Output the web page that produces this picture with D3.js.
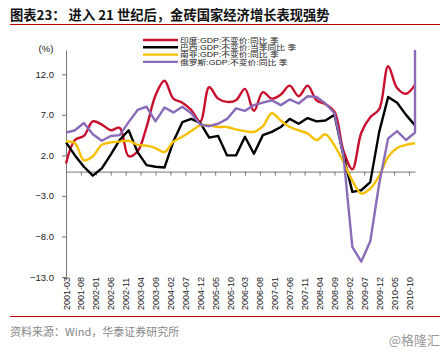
<!DOCTYPE html>
<html>
<head>
<meta charset="utf-8">
<script src="https://cdn.jsdelivr.net/npm/d3@7"></script>
<style>
  body { margin: 0; background: #fff; }
  svg { display: block; font-family: "Liberation Sans", Arial, "Noto Sans CJK SC", sans-serif; }
</style>
</head>
<body>
<div id="chart"></div>
<script>
// Chart size, same as the window
const width = 448;
const height = 353;

// Quarterly dates (the x axis counts months from 2001-03)
const quarters = [
  "2001-03","2001-06","2001-09","2001-12","2002-03","2002-06","2002-09","2002-12",
  "2003-03","2003-06","2003-09","2003-12","2004-03","2004-06","2004-09","2004-12",
  "2005-03","2005-06","2005-09","2005-12","2006-03","2006-06","2006-09","2006-12",
  "2007-03","2007-06","2007-09","2007-12","2008-03","2008-06","2008-09","2008-12",
  "2009-03","2009-06","2009-09","2009-12","2010-03","2010-06","2010-09","2010-12"
];

// Tick labels every five months
const tickLabels = [
  "2001-03","2001-08","2002-01","2002-06","2002-11","2003-04","2003-09","2004-02",
  "2004-07","2004-12","2005-05","2005-10","2006-03","2006-08","2007-01","2007-06",
  "2007-11","2008-04","2008-09","2009-02","2009-07","2009-12","2010-05","2010-10"
];

const yTicks = [-13, -8, -3, 2, 7, 12];

// GDP growth, % y/y
const india = [1.0,3.9,4.4,6.2,5.8,5.1,5.4,1.9,2.5,5.5,9.4,11.2,9.0,8.5,7.6,6.2,
  10.4,9.0,8.6,8.8,10.2,7.5,9.8,9.0,9.5,10.6,9.3,10.6,8.8,8.3,7.4,2.6,
  0.3,4.8,6.7,7.7,13.0,10.3,9.6,10.7];
const brazil = [3.6,2.0,0.6,-0.5,0.4,2.1,3.9,5.1,2.4,0.8,0.6,0.5,3.7,6.1,6.5,6.0,
  4.2,4.4,2.0,2.0,4.3,2.2,4.5,4.9,5.5,6.5,5.9,6.6,6.2,6.3,7.0,2.0,
  -2.5,-2.3,-1.3,4.9,9.2,8.5,7.0,5.7];
const southAfrica = [3.7,3.5,1.4,1.9,3.3,3.6,3.7,3.8,3.3,3.2,2.9,2.4,3.7,4.3,5.0,5.7,
  5.7,5.5,5.5,5.2,5.0,4.9,5.6,7.2,6.3,5.5,5.1,4.7,3.9,4.6,3.2,1.2,
  -1.1,-2.7,-2.1,-0.5,1.8,2.9,3.3,3.5];
const russia = [4.8,5.1,6.0,4.6,3.8,4.4,4.5,6.1,7.6,8.0,6.2,7.9,7.3,8.0,7.2,5.8,
  5.6,5.9,6.5,7.8,7.5,8.2,8.5,8.8,8.2,8.9,8.4,9.3,9.2,8.4,7.2,2.0,
  -9.3,-11.1,-8.6,-1.5,4.1,5.0,3.9,4.8];
// The Russia line shoots straight up off the top at the last date
const russiaLastSpike = 15;

const seriesNames = [
  "印度:GDP:不变价:同比 季",
  "巴西:GDP:不变价:当季同比 季",
  "南非:GDP:不变价:同比 季",
  "俄罗斯:GDP:不变价:同比 季"
];
const seriesColors = ["#c8102e", "#000000", "#f6c000", "#8a6bb8"];

const monthIndex = s => (+s.slice(0, 4) - 2001) * 12 + (+s.slice(5, 7) - 3);

const series = [
  { name: seriesNames[0], color: seriesColors[0], curve: d3.curveCatmullRom.alpha(0.5),
    points: quarters.map((q, i) => [monthIndex(q), india[i]]) },
  { name: seriesNames[1], color: seriesColors[1], curve: d3.curveLinear,
    points: quarters.map((q, i) => [monthIndex(q), brazil[i]]) },
  { name: seriesNames[2], color: seriesColors[2], curve: d3.curveCatmullRom.alpha(0.5),
    points: quarters.map((q, i) => [monthIndex(q), southAfrica[i]]) },
  { name: seriesNames[3], color: seriesColors[3], curve: d3.curveLinear,
    points: quarters.map((q, i) => [monthIndex(q), russia[i]])
      .concat([[monthIndex(quarters[quarters.length - 1]), russiaLastSpike]]) }
];

const svg = d3.select("#chart").append("svg")
  .attr("width", width)
  .attr("height", height);

// Title and red rules
svg.append("text")
  .attr("x", 10).attr("y", 20)
  .attr("font-family", "'Noto Sans CJK SC', sans-serif")
  .attr("font-weight", "bold")
  .attr("font-size", 13.3)
  .attr("fill", "#111")
  .text("图表23：  进入 21 世纪后，金砖国家经济增长表现强势");

svg.append("line")
  .attr("x1", 10).attr("x2", 440).attr("y1", 24.5).attr("y2", 24.5)
  .attr("stroke", "#c00000").attr("stroke-width", 1.2);

svg.append("line")
  .attr("x1", 10).attr("x2", 440).attr("y1", 316.5).attr("y2", 316.5)
  .attr("stroke", "#c00000").attr("stroke-width", 1);

svg.append("text")
  .attr("x", 10).attr("y", 336)
  .attr("font-family", "'Noto Sans CJK SC', sans-serif")
  .attr("font-size", 11)
  .attr("fill", "#888")
  .text("资料来源：Wind，华泰证券研究所");

svg.append("text")
  .attr("x", 440).attr("y", 345)
  .attr("text-anchor", "end")
  .attr("font-family", "'Noto Sans CJK SC', sans-serif")
  .attr("font-size", 13)
  .attr("fill", "#999")
  .text("@格隆汇");

// Scales
const x = d3.scaleLinear().domain([0, 117]).range([66, 415]);
const y = d3.scaleLinear().domain([-13, 15]).range([277, 50]);

// Y axis
const yAxis = svg.append("g")
  .attr("transform", "translate(66,0)")
  .call(d3.axisLeft(y).tickValues(yTicks).tickFormat(d3.format(".1f"))
    .tickSize(4).tickSizeOuter(0).tickPadding(8));
yAxis.select(".domain").attr("stroke", "#777");
yAxis.selectAll(".tick line").attr("stroke", "#777");
yAxis.selectAll("text").attr("font-size", 9.5).attr("fill", "#222");

svg.append("text")
  .attr("x", 46).attr("y", 52)
  .attr("text-anchor", "middle")
  .attr("font-size", 9.5)
  .attr("fill", "#222")
  .text("(%)");

// X axis through zero, labels rotated at the bottom
const xAxis = svg.append("g")
  .attr("transform", `translate(0,${y(0)})`)
  .call(d3.axisBottom(x).tickValues(tickLabels.map(monthIndex))
    .tickFormat("").tickSize(4).tickSizeOuter(0));
xAxis.select(".domain").attr("stroke", "#777");
xAxis.selectAll(".tick line").attr("stroke", "#777");

svg.append("g").selectAll("text")
  .data(tickLabels)
  .join("text")
  .attr("transform", d => `translate(${x(monthIndex(d)) + 3.5},310) rotate(-90)`)
  .attr("font-size", 9)
  .attr("fill", "#222")
  .text(d => d);

// Lines
const line = d3.line().x(d => x(d[0])).y(d => y(d[1]));

svg.append("g").selectAll("path")
  .data(series)
  .join("path")
  .attr("fill", "none")
  .attr("stroke", d => d.color)
  .attr("stroke-width", 2.4)
  .attr("stroke-linejoin", "round")
  .attr("d", d => line.curve(d.curve)(d.points));

// Legend: rows are tight, so the text is small and stretched sideways
const legend = svg.append("g").attr("transform", "translate(143,40)");
const items = legend.selectAll("g")
  .data(series)
  .join("g")
  .attr("transform", (d, i) => `translate(0,${i * 7.3})`);

items.append("line")
  .attr("x1", 0).attr("x2", 35)
  .attr("stroke", d => d.color)
  .attr("stroke-width", 2.4);

items.append("text")
  .attr("x", 37).attr("y", 2.8)
  .attr("font-size", 7)
  .attr("fill", "#222")
  .text(d => d.name)
  .each(function() {
    const w = this.getComputedTextLength();
    d3.select(this).attr("textLength", w * 1.25).attr("lengthAdjust", "spacingAndGlyphs");
  });
</script>
</body>
</html>
